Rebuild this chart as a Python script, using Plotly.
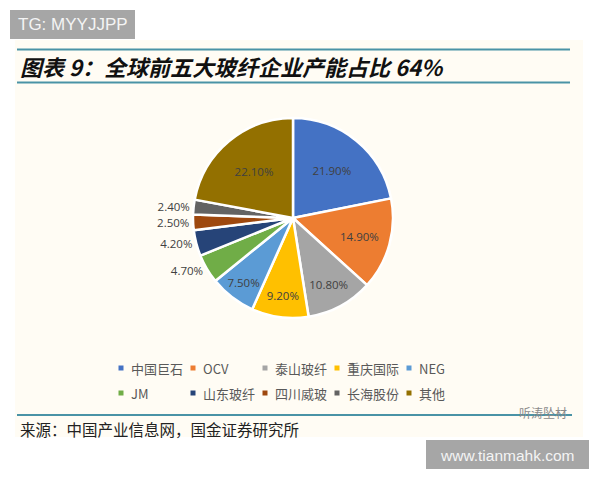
import plotly.graph_objects as go

labels = ["中国巨石", "OCV", "泰山玻纤", "重庆国际", "NEG", "JM", "山东玻纤", "四川威玻", "长海股份", "其他"]
values = [21.9, 14.9, 10.8, 9.2, 7.5, 4.7, 4.2, 2.5, 2.4, 22.1]
colors = ["#4472C4", "#ED7D31", "#A5A5A5", "#FFC000", "#5B9BD5", "#70AD47", "#264478", "#9E480E", "#636363", "#937000"]
text_pos = ["inside", "inside", "inside", "inside", "inside", "outside", "outside", "outside", "outside", "inside"]

title_text = "图表 9：全球前五大玻纤企业产能占比 64%"
source_text = "来源：中国产业信息网，国金证券研究所"

W, H = 600, 480
OFF = 8  # page body margin
def px(x): return (x - OFF) / W
def py(y): return 1 - (y - OFF) / H

fig = go.Figure()
fig.add_trace(go.Pie(
    labels=labels, values=values, sort=False, direction="clockwise", rotation=0,
    marker=dict(colors=colors, line=dict(color="white", width=2.5)),
    texttemplate="%{value:.2f}%", textposition=text_pos,
    insidetextorientation="horizontal",
    textfont=dict(family="Open Sans", size=11.5, color="#404040"),
    domain=dict(x=[px(193), px(393)], y=[py(318), py(118)]),
    showlegend=False, hoverinfo="label+value",
))

shapes = [
    dict(type="rect", xref="paper", yref="paper", x0=px(15), x1=px(583), y0=py(437), y1=py(40),
         fillcolor="#fffcf4", line=dict(width=0), layer="below"),
    dict(type="line", xref="paper", yref="paper", x0=px(17), x1=px(570), y0=py(49.5), y1=py(49.5),
         line=dict(color="#4a93a6", width=2)),
    dict(type="line", xref="paper", yref="paper", x0=px(17), x1=px(570), y0=py(82.5), y1=py(82.5),
         line=dict(color="#4a93a6", width=2)),
    dict(type="line", xref="paper", yref="paper", x0=px(17), x1=px(572), y0=py(415), y1=py(415),
         line=dict(color="#4a93a6", width=2)),
    dict(type="rect", xref="paper", yref="paper", x0=px(10), x1=px(135), y0=py(39), y1=py(10),
         fillcolor="#a6a6a6", line=dict(width=0)),
    dict(type="rect", xref="paper", yref="paper", x0=px(426), x1=px(589), y0=py(469), y1=py(440),
         fillcolor="#a6a6a6", line=dict(width=0)),
]

annotations = [
    dict(text=title_text, x=px(18), y=py(66), xref="paper", yref="paper", xanchor="left", yanchor="middle",
         showarrow=False, font=dict(family="Noto Sans CJK SC", size=22, color="#111111", weight="bold", style="italic")),
    dict(text=source_text, x=px(18), y=py(429), xref="paper", yref="paper", xanchor="left", yanchor="middle",
         showarrow=False, font=dict(family="Noto Sans CJK SC", size=15.5, color="#222222")),
    dict(text="TG: MYYJJPP", x=px(72.5), y=py(25), xref="paper", yref="paper", xanchor="center", yanchor="middle",
         showarrow=False, font=dict(family="Liberation Sans", size=17, color="#f4f4f4")),
    dict(text="www.tianmahk.com", x=px(507.5), y=py(455), xref="paper", yref="paper", xanchor="center", yanchor="middle",
         showarrow=False, font=dict(family="Liberation Sans", size=15.5, color="#f4f4f4")),
    dict(text="听涛坠材", x=px(543), y=py(412), xref="paper", yref="paper", xanchor="center", yanchor="middle",
         showarrow=False, font=dict(family="Noto Sans CJK SC", size=12, color="#8a8a8a")),
]

# legend: 5 columns x 2 rows
col_x = [121, 193, 265, 337, 409]
row_y = [368, 393]
for i, (lab, col) in enumerate(zip(labels, colors)):
    cx = col_x[i % 5]
    cy = row_y[i // 5]
    shapes.append(dict(type="rect", xref="paper", yref="paper", x0=px(cx - 2.5), x1=px(cx + 2.5),
                       y0=py(cy + 2.5), y1=py(cy - 2.5), fillcolor=col, line=dict(width=0)))
    annotations.append(dict(text=lab, x=px(cx + 8), y=py(cy), xref="paper", yref="paper",
                            xanchor="left", yanchor="middle", showarrow=False,
                            font=dict(family="Noto Sans CJK SC", size=13, color="#595959")))

fig.update_layout(
    width=W, height=H, margin=dict(l=0, r=0, t=0, b=0),
    paper_bgcolor="white", plot_bgcolor="white",
    shapes=shapes, annotations=annotations,
)
fig.write_html("out.html")
